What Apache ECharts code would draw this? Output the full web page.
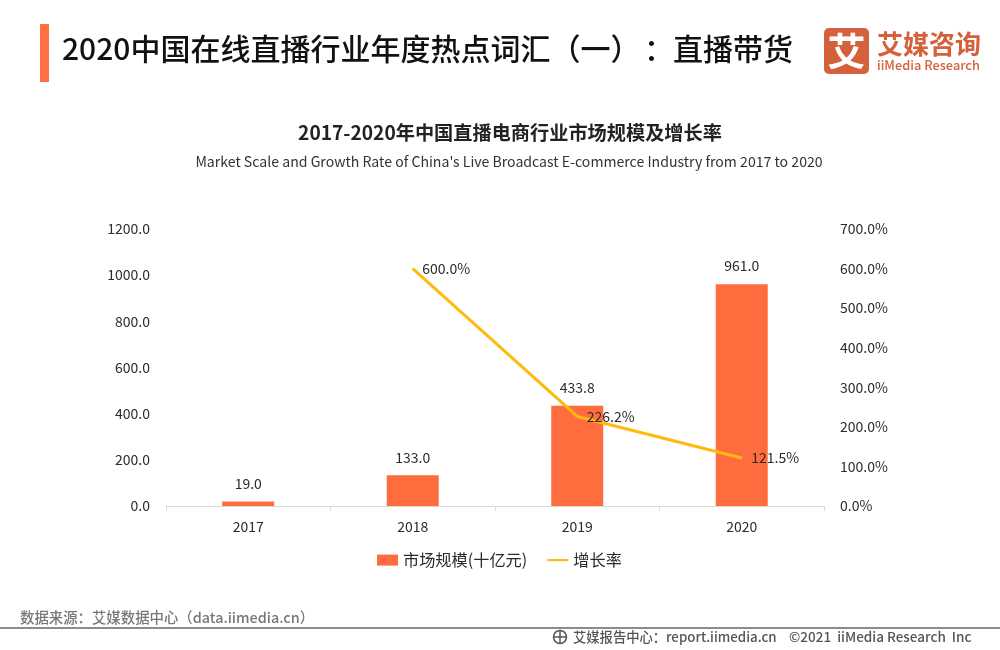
<!DOCTYPE html>
<html>
<head>
<meta charset="utf-8">
<style>
  html, body { margin: 0; padding: 0; background: #fff; }
  #chart { width: 1000px; height: 650px; }
</style>
<script src="https://cdn.jsdelivr.net/npm/echarts@6/dist/echarts.min.js"></script>
</head>
<body>
<div id="chart"></div>
<script>
var years = ['2017', '2018', '2019', '2020'];
var marketScale = [19.0, 133.0, 433.8, 961.0];
var growthRate = [null, 600.0, 226.2, 121.5];

var FONT = '"Noto Sans CJK SC", "Noto Sans", sans-serif';
var TEXT = '#2b2b2b';

var chart = echarts.init(document.getElementById('chart'));

chart.setOption({
  animation: false,
  backgroundColor: '#fff',
  textStyle: { fontFamily: FONT },
  title: [
    {
      text: '2017-2020年中国直播电商行业市场规模及增长率',
      left: 505, top: 118, textAlign: 'center',
      textStyle: { fontSize: 19.2, fontWeight: 'bold', color: '#222', fontFamily: FONT }
    },
    {
      text: "Market Scale and Growth Rate of China's Live Broadcast E-commerce Industry from 2017 to 2020",
      left: 504, top: 150, textAlign: 'center',
      textStyle: { fontSize: 14.1, fontWeight: 'normal', color: '#333', fontFamily: FONT }
    }
  ],
  legend: {
    left: 372, top: 547,
    itemWidth: 21, itemHeight: 11, itemGap: 20,
    textStyle: { fontSize: 16.2, color: TEXT, fontFamily: FONT },
    data: [
      { name: '市场规模(十亿元)', icon: 'rect' },
      { name: '增长率', icon: 'path://M0,0H40V4H0Z' }
    ]
  },
  grid: { left: 166, right: 176, top: 229, bottom: 144 },
  xAxis: {
    type: 'category',
    data: years,
    axisLine: { lineStyle: { color: '#d9d9d9' } },
    axisTick: { show: true, length: 5, lineStyle: { color: '#d9d9d9' } },
    axisLabel: { fontSize: 14, color: TEXT, margin: 14 }
  },
  yAxis: [
    {
      type: 'value', min: 0, max: 1200, interval: 200,
      splitLine: { show: false },
      axisLine: { show: false },
      axisTick: { show: false },
      axisLabel: { fontSize: 14, color: TEXT, margin: 16, padding: [0, 0, 4, 0], formatter: function (v) { return v.toFixed(1); } }
    },
    {
      type: 'value', min: 0, max: 700, interval: 100,
      splitLine: { show: false },
      axisLine: { show: false },
      axisTick: { show: false },
      axisLabel: { fontSize: 14, color: TEXT, margin: 16, padding: [0, 0, 4, 0], formatter: function (v) { return v.toFixed(1) + '%'; } }
    }
  ],
  series: [
    {
      name: '市场规模(十亿元)',
      type: 'bar',
      data: marketScale,
      barWidth: 52,
      itemStyle: { color: '#ff6d3f' },
      label: {
        show: true, position: 'top', distance: 11,
        fontSize: 14, color: TEXT,
        formatter: function (p) { return p.value.toFixed(1); }
      }
    },
    {
      name: '增长率',
      type: 'line',
      yAxisIndex: 1,
      data: growthRate,
      symbol: 'circle',
      symbolSize: 1,
      showSymbol: true,
      itemStyle: { color: '#ffb90f' },
      lineStyle: { color: '#ffb90f', width: 3 },
      label: {
        show: true, position: 'right', distance: 9,
        fontSize: 14, color: TEXT,
        formatter: function (p) { return p.value.toFixed(1) + '%'; }
      }
    }
  ],
  graphic: [
    { type: 'rect', shape: { x: 40, y: 24, width: 9, height: 58 }, style: { fill: '#ff7043' } },
    { type: 'text', x: 62, y: 34, style: { text: '2020中国在线直播行业年度热点词汇（一）', font: '500 30px ' + FONT, fill: '#111' } },
    { type: 'text', x: 644, y: 34, style: { text: '：', font: '500 30px ' + FONT, fill: '#111' } },
    { type: 'text', x: 673, y: 34, style: { text: '直播带货', font: '500 30px ' + FONT, fill: '#111' } },
    { type: 'rect', shape: { x: 824, y: 28, width: 45, height: 46, r: 5 }, style: { fill: '#d4603c' } },
    { type: 'text', x: 846.5, y: 51, style: { text: '艾', font: 'bold 38px ' + FONT, fill: '#fff', align: 'center', verticalAlign: 'middle' } },
    { type: 'text', x: 877, y: 31, style: { text: '艾媒咨询', font: 'bold 26px ' + FONT, fill: '#d4603c' } },
    { type: 'text', x: 877, y: 59, style: { text: 'iiMedia Research', font: '500 12.8px ' + FONT, fill: '#d4603c' } },
    { type: 'text', x: 20, y: 610, style: { text: '数据来源：艾媒数据中心（data.iimedia.cn）', font: '500 14.4px ' + FONT, fill: '#777' } },
    { type: 'rect', shape: { x: 0, y: 627, width: 1000, height: 2 }, style: { fill: '#8c8c8c' } },
    { type: 'circle', shape: { cx: 560, cy: 637, r: 6.5 }, style: { fill: 'none', stroke: '#555', lineWidth: 1.5 } },
    { type: 'line', shape: { x1: 560, y1: 631, x2: 560, y2: 643 }, style: { stroke: '#555', lineWidth: 1.5 } },
    { type: 'line', shape: { x1: 554, y1: 637, x2: 566, y2: 637 }, style: { stroke: '#555', lineWidth: 1.5 } },
    { type: 'text', x: 573, y: 630, style: { text: '艾媒报告中心：report.iimedia.cn', font: '500 13.3px ' + FONT, fill: '#555' } },
    { type: 'text', x: 789, y: 630, style: { text: '©2021  iiMedia Research  Inc', font: '500 13.5px ' + FONT, fill: '#555' } }
  ]
});
</script>
</body>
</html>
